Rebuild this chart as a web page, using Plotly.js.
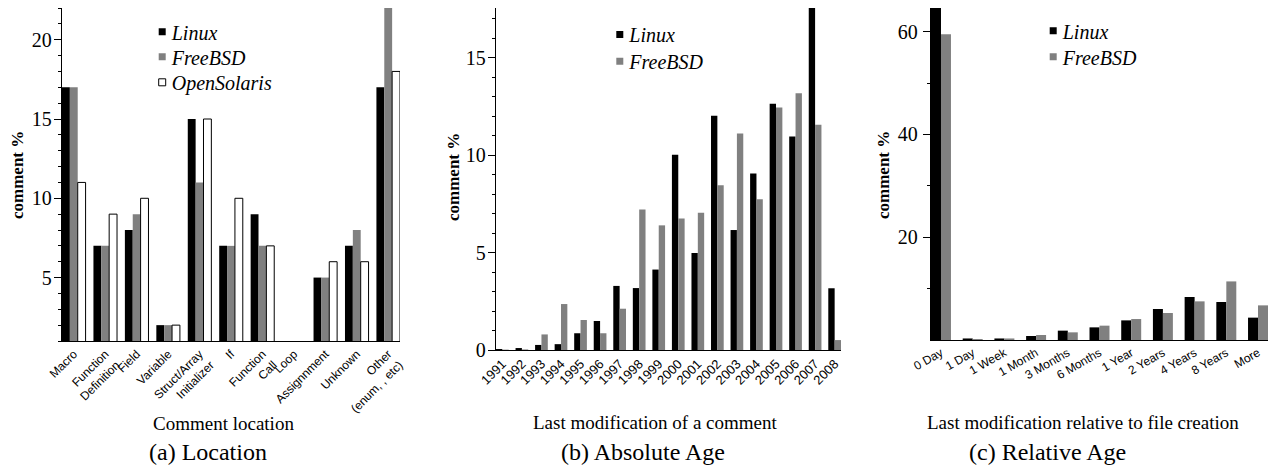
<!DOCTYPE html>
<html>
<head>
<meta charset="utf-8">
<script src="https://cdn.plot.ly/plotly-3.0.1.min.js"></script>
<style>html,body{margin:0;padding:0;background:#fff;}#chart{width:1273px;height:465px;}</style>
</head>
<body>
<div id="chart"></div>
<script>
// ---- (a) Location ----
const locCategories = ['Macro','Function<br>Definition','Field','Variable','Struct/Array<br>Initializer','If','Function<br>Call','Loop','Assignnment','Unknown','Other<br>(enum, , etc)'];
const locLinux       = [17, 7, 8, 2, 15, 7, 9, 0, 5, 7, 17];
const locFreeBSD     = [17, 7, 9, 2, 11, 7, 7, 0, 5, 8, 22.3];
const locOpenSolaris = [11, 9, 10, 2, 15, 10, 7, 0, 6, 6, 18];

// ---- (b) Absolute Age ----
const years = ['1991','1992','1993','1994','1995','1996','1997','1998','1999','2000','2001','2002','2003','2004','2005','2006','2007','2008'];
const absLinux   = [0.05, 0.1, 0.26, 0.3, 0.86, 1.49, 3.29, 3.18, 4.13, 10.03, 4.98, 12.03, 6.16, 9.06, 12.65, 10.96, 17.9, 3.17];
const absFreeBSD = [0.02, 0.03, 0.8, 2.36, 1.54, 0.86, 2.12, 7.22, 6.4, 6.75, 7.05, 8.46, 11.11, 7.74, 12.45, 13.18, 11.57, 0.51];

// ---- (c) Relative Age ----
const relCategories = ['0 Day','1 Day','1 Week','1 Month','3 Months','6 Months','1 Year','2 Years','4 Years','8 Years','More'];
const relLinux   = [65.5, 0.3, 0.3, 0.78, 1.82, 2.46, 3.82, 6.03, 8.37, 7.39, 4.35];
const relFreeBSD = [59.5, 0.2, 0.3, 0.97, 1.49, 2.79, 4.08, 5.25, 7.52, 11.4, 6.74];

const W = 1273, H = 465;
const px = v => v / W;
const py = v => 1 - v / H;

const BLACK = '#000000', GRAY = '#808080', WHITE = '#ffffff';
const serif = 'Liberation Serif';
const sans = 'Liberation Sans';

function bar(x, y, name, color, xa, ya, offset, width, legend, outline) {
  return {
    type: 'bar', x: x, y: y, name: name, xaxis: xa, yaxis: ya,
    offset: offset, width: width, legend: legend,
    marker: {color: color, line: {color: outline ? '#000' : color, width: outline ? 1 : 0}},
    hoverinfo: 'x+y+name'
  };
}

const data = [
  bar(locCategories, locLinux, 'Linux', BLACK, 'x', 'y', -0.375, 0.25, 'legend', false),
  bar(locCategories, locFreeBSD, 'FreeBSD', GRAY, 'x', 'y', -0.125, 0.25, 'legend2', false),
  bar(locCategories, locOpenSolaris, 'OpenSolaris', WHITE, 'x', 'y', 0.125, 0.25, 'legend3', true),
  bar(years, absLinux, 'Linux', BLACK, 'x2', 'y2', -0.325, 0.325, 'legend4', false),
  bar(years, absFreeBSD, 'FreeBSD', GRAY, 'x2', 'y2', 0.0, 0.325, 'legend5', false),
  bar(relCategories, relLinux, 'Linux', BLACK, 'x3', 'y3', -0.315, 0.315, 'legend6', false),
  bar(relCategories, relFreeBSD, 'FreeBSD', GRAY, 'x3', 'y3', 0.0, 0.315, 'legend7', false)
];

function xaxis(domain, range, angle, size) {
  return {
    domain: domain, range: range, type: 'category',
    showline: true, linecolor: '#000', linewidth: 1.3, ticks: '', showgrid: false, zeroline: false,
    tickangle: angle,
    tickfont: {family: sans, size: size, color: '#000'}, automargin: false, fixedrange: true
  };
}
function yaxis(domain, range, dtick, minorDtick) {
  return {
    domain: domain, range: range, showline: true, linecolor: '#000', linewidth: 1.3,
    ticks: 'outside', ticklen: 7, tickwidth: 1, tickcolor: '#000', dtick: dtick, tick0: 0,
    minor: {dtick: minorDtick, ticks: 'outside', ticklen: 3, tickcolor: '#000', tickwidth: 1},
    showgrid: false, zeroline: false, automargin: false, fixedrange: true,
    tickfont: {family: serif, size: 20, color: '#000'}
  };
}

function leg(textStart, rowCenter) {
  return {
    x: px(textStart - 40), y: py(rowCenter), xanchor: 'left', yanchor: 'middle',
    bgcolor: 'rgba(0,0,0,0)', borderwidth: 0,
    font: {family: serif, size: 20, style: 'italic', color: '#000'}
  };
}

const ya1 = yaxis([py(341), py(8)], [1, 22.0], 5, 1);
ya1.anchor = 'x';
ya1.ticklabelstandoff = -2;
const ya2 = yaxis([py(350), py(8)], [0, 17.56], 5, 1);
ya2.anchor = 'x2';
ya2.ticklabelstandoff = -2;
const ya3 = yaxis([py(340), py(8)], [0, 64.6], 20, 10);
ya3.anchor = 'x3';
ya3.tickmode = 'array';
ya3.tickvals = [20, 40, 60];
ya3.minor = {tickmode: 'array', tickvals: [10, 30, 50], ticks: 'outside', ticklen: 3, tickcolor: '#000', tickwidth: 1};
ya3.ticklabelstandoff = 1;

const xa1 = xaxis([px(62), px(400)], [-0.375, 10.375], -45, 12); xa1.anchor = 'y';
const xa2 = xaxis([px(496), px(841)], [-0.325, 17.325], -45, 13); xa2.anchor = 'y2';
const xa3 = xaxis([px(931), px(1268)], [-0.315, 10.315], -30, 12); xa3.anchor = 'y3';

function note(text, x, y, size, extra) {
  return Object.assign({text: text, x: px(x), y: py(y), xref: 'paper', yref: 'paper', xanchor: 'center', yanchor: 'middle',
          showarrow: false, font: {family: serif, size: size, color: '#000'}}, extra || {});
}
const ytitle = {textangle: -90, font: {family: serif, size: 17, weight: 'bold', color: '#000'}};

const layout = {
  width: W, height: H,
  margin: {l: 0, r: 0, t: 0, b: 0, pad: 0},
  paper_bgcolor: '#fff', plot_bgcolor: 'rgba(0,0,0,0)',
  font: {family: serif, color: '#000'},
  barmode: 'overlay',
  showlegend: true,
  xaxis: xa1, yaxis: ya1,
  xaxis2: xa2, yaxis2: ya2,
  xaxis3: xa3, yaxis3: ya3,
  legend: leg(171.7, 31.7),
  legend2: leg(171.7, 56.7),
  legend3: leg(171.7, 82.3),
  legend4: leg(629.3, 34.5),
  legend5: leg(629.3, 61.2),
  legend6: leg(1062.7, 30.7),
  legend7: leg(1062.7, 56.7),
  annotations: [
    note('comment %', 17, 175, 17, ytitle),
    note('comment %', 453, 177, 17, ytitle),
    note('comment %', 883, 175, 17, ytitle),
    note('Comment location', 223, 423, 19),
    note('(a) Location', 208, 451.5, 24),
    note('Last modification of a comment', 655, 422, 19),
    note('(b) Absolute Age', 642.5, 451.5, 24),
    note('Last modification relative to file creation', 1083, 422.7, 19),
    note('(c) Relative Age', 1047, 451.5, 24)
  ]
};

function shrinkLegendSymbols() {
  document.querySelectorAll('.legendpoints path').forEach(function (p) {
    p.setAttribute('d', 'M14,3.5H7V-3.5H14Z');
  });
}

Plotly.newPlot('chart', data, layout, {staticPlot: true, displayModeBar: false}).then(function () {
  shrinkLegendSymbols();
  requestAnimationFrame(shrinkLegendSymbols);
  setTimeout(shrinkLegendSymbols, 50);
  setTimeout(shrinkLegendSymbols, 300);
});
</script>
</body>
</html>
